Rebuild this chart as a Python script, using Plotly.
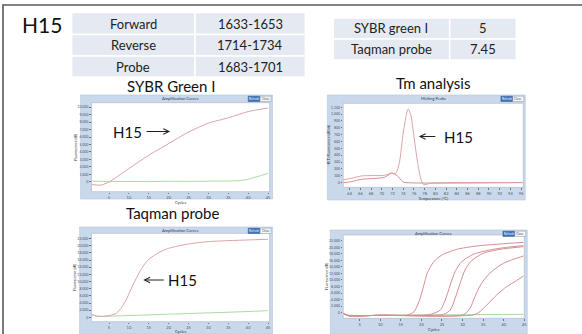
import plotly.graph_objects as go

# ---------------- data ----------------
# primer table
primer_names = ["Forward", "Reverse", "Probe"]
primer_pos = ["1633-1653", "1714-1734", "1683-1701"]
# value table
method_names = ["SYBR green I", "Taqman probe"]
method_vals = ["5", "7.45"]

# panel 1: SYBR Green I amplification
sybr_cycles = [0.6, 3, 5, 10, 15, 20, 25, 30, 35, 40, 45]
sybr_h15 = [-358, -418, 0, 1784, 3569, 5116, 6663, 7853, 8567, 9400, 9876]
sybr_ntc_cycles = [0.6, 5, 10, 15, 20, 25, 30, 35, 38, 40, 45]
sybr_ntc = [118, 40, 60, 40, 90, 70, 100, 120, 180, 360, 1140]

# panel 2: melting peaks
tm_temp_a = [62.8, 64.3, 66.2, 68.0, 70.5, 71.8, 72.6, 73.3, 73.9, 74.5, 74.9, 75.4, 76.0, 76.7, 77.3, 77.8, 79.1, 82.8, 96.4]
tm_h15_a = [38, 62, 97, 102, 106, 140, 135, 300, 671, 963, 1076, 988, 671, 282, 48, -30, -10, 0, 0]
tm_temp_b = [62.8, 64.3, 66.2, 68.0, 70.5, 71.8, 72.95, 73.9, 74.5, 96.4]
tm_h15_b = [0, 13, 48, 57, 77, 136, 97, 13, 0, 0]

# panel 3: Taqman probe amplification
taq_cycles = [0.6, 1.8, 3, 5, 6.8, 8, 9.3, 10, 11, 12.3, 13.5, 15, 17.5, 20, 25, 30, 35, 40, 45]
taq_h15 = [839, 370, 271, 469, 1111, 2518, 4839, 6518, 9036, 11826, 14172, 16221, 18073, 19283, 20493, 21159, 21431, 21628, 21801]
taq_ntc_cycles = [0.6, 1.8, 3, 10, 20, 30, 40, 45]
taq_ntc = [839, 370, 271, 518, 889, 1259, 1630, 1876]

# panel 4: dilution series amplification
dil_c1 = [1.0, 2.2, 10, 16.6, 18.2, 19.4, 20.5, 21.4, 23.0, 25.0, 28.6, 33.4, 39.1, 44.8]
dil_v1 = [-204, -919, -800, -715, 306, 3367, 7959, 12040, 15612, 17653, 19387, 20408, 21020, 21530]
dil_c2 = [1.0, 2.2, 10, 22.2, 24.6, 25.8, 27.0, 28.2, 29.8, 32.6, 36.6, 40.7, 44.8]
dil_v2 = [-204, -919, -800, -510, 816, 3877, 8469, 12551, 15612, 17857, 19183, 19999, 20510]
dil_c3 = [1.0, 2.2, 10, 25.4, 27.0, 28.2, 29.4, 30.6, 32.2, 35.0, 39.1, 44.8]
dil_v3 = [-204, -919, -800, -510, 816, 4387, 8979, 13061, 15918, 18163, 19387, 20204]
dil_c4 = [1.0, 2.2, 10, 30.2, 31.8, 33.0, 34.6, 36.6, 39.9, 44.8]
dil_v4 = [-204, -919, -800, -613, 1326, 4898, 8979, 12040, 15102, 17347]
dil_c5 = [1.0, 2.2, 10, 32.6, 34.2, 35.9, 38.3, 40.7, 43.1, 44.8]
dil_v5 = [-204, -919, -800, -715, 306, 2347, 5408, 7959, 9796, 11224]
dil_ntc_c = [1.0, 2.2, 20, 44.8]
dil_ntc_v = [-204, -715, -715, -510]

cycle_ticks = [5, 10, 15, 20, 25, 30, 35, 40, 45]
tm_ticks = [64, 66, 68, 70, 72, 74, 76, 78, 80, 82, 84, 86, 88, 90, 92, 94, 96]

# ---------------- layout helpers ----------------
W, H = 582, 334
def px(x):
    return x / W
def py(y):
    return 1 - y / H

FONT = "Lato"
RED = "#dea2a5"
RED2 = "#d58f93"
GREEN = "#a6dca0"

fig = go.Figure()

def line(xs, ys, n, color, width=1.0):
    fig.add_trace(go.Scatter(
        x=xs, y=ys, mode="lines",
        line=dict(color=color, width=width, shape="spline", smoothing=0.7),
        xaxis="x" if n == 1 else f"x{n}", yaxis="y" if n == 1 else f"y{n}",
        showlegend=False, hoverinfo="skip"))

line(sybr_ntc_cycles, sybr_ntc, 1, GREEN)
line(sybr_cycles, sybr_h15, 1, RED)
line(tm_temp_b, tm_h15_b, 2, RED2)
line(tm_temp_a, tm_h15_a, 2, RED)
line(taq_ntc_cycles, taq_ntc, 3, GREEN)
line(taq_cycles, taq_h15, 3, RED)
line(dil_ntc_c, dil_ntc_v, 4, GREEN)
for c, v in [(dil_c1, dil_v1), (dil_c2, dil_v2), (dil_c3, dil_v3), (dil_c4, dil_v4), (dil_c5, dil_v5)]:
    line(c, v, 4, RED2)

# panel geometry in pixels: frame box, plot box
panels = {
    1: dict(frame=(81, 95, 274, 199), plot=(92, 102.7, 271, 191.7), title="Amplification Curves"),
    2: dict(frame=(329, 95, 528, 200), plot=(345, 103.3, 526, 187.3), title="Melting Peaks"),
    3: dict(frame=(80, 227, 274, 334), plot=(92, 233.3, 271, 321.7), title="Amplification Curves"),
    4: dict(frame=(332, 230, 530, 334), plot=(345, 235, 527, 318.3), title="Amplification Curves"),
}
axis_cfg = {
    1: dict(xr=[0.6, 45.4], xt=cycle_ticks, yr=[-1310, 10590], yt=list(range(0, 10001, 1000)),
            xtitle="Cycles", ytitle="Fluorescence (dR)"),
    2: dict(xr=[62.8, 96.4], xt=tm_ticks, yr=[-69, 1158], yt=list(range(0, 1101, 100)),
            xtitle="Temperature (°C)", ytitle="-R'(T) Fluorescence (dR/dt)"),
    3: dict(xr=[0.6, 45.4], xt=cycle_ticks, yr=[-1210, 23480], yt=list(range(0, 22001, 2000)),
            xtitle="Cycles", ytitle="Fluorescence (dR)"),
    4: dict(xr=[1.0, 45.0], xt=cycle_ticks, yr=[-1735, 23775], yt=list(range(0, 22001, 2000)),
            xtitle="Cycles", ytitle="Fluorescence (dR)"),
}

shapes = []
annotations = []

def text(t, x, y, size, color="#111", xanchor="center"):
    annotations.append(dict(text=t, xref="paper", yref="paper", x=px(x), y=py(y), showarrow=False,
                            xanchor=xanchor, yanchor="middle",
                            font=dict(size=size, color=color, family=FONT)))

# outer slide frame
shapes.append(dict(type="rect", xref="paper", yref="paper", x0=px(3), x1=px(640), y0=py(5), y1=py(380),
                   line=dict(color="#5a5a5a", width=1.6), fillcolor="rgba(0,0,0,0)"))

layout_axes = {}
for n, p in panels.items():
    fx0, fy0, fx1, fy1 = p["frame"]
    ax0, ay0, ax1, ay1 = p["plot"]
    shapes.append(dict(type="rect", xref="paper", yref="paper", layer="below",
                       x0=px(fx0), x1=px(fx1), y0=py(fy1), y1=py(fy0),
                       fillcolor="#c9d9eb", line=dict(color="#b3c6dc", width=0.6)))
    shapes.append(dict(type="rect", xref="paper", yref="paper", layer="below",
                       x0=px(ax0), x1=px(ax1), y0=py(ay1), y1=py(ay0),
                       fillcolor="white", line=dict(color="#a9b4c2", width=0.6)))
    # title bar text
    text(p["title"], (ax0 + ax1) / 2, fy0 + 3.8, 4, "#2d3b52")
    # buttons
    bx1 = fx1 - 1.5
    shapes.append(dict(type="rect", xref="paper", yref="paper", x0=px(bx1 - 11), x1=px(bx1), y0=py(fy0 + 6.5),
                       y1=py(fy0 + 1.2), fillcolor="#f4f6f8", line=dict(color="#8d9aab", width=0.5)))
    shapes.append(dict(type="rect", xref="paper", yref="paper", x0=px(bx1 - 23), x1=px(bx1 - 11.5), y0=py(fy0 + 6.5),
                       y1=py(fy0 + 1.2), fillcolor="#3e73b8", line=dict(color="#2c5a96", width=0.5)))
    text("Refresh", bx1 - 17.2, fy0 + 3.9, 3, "white")
    text("Close", bx1 - 5.5, fy0 + 3.9, 3, "#555")

    cfg = axis_cfg[n]
    xk = "xaxis" if n == 1 else f"xaxis{n}"
    yk = "yaxis" if n == 1 else f"yaxis{n}"
    layout_axes[xk] = dict(domain=[px(ax0), px(ax1)], anchor="y" if n == 1 else f"y{n}",
                           range=cfg["xr"], tickvals=cfg["xt"], showgrid=False, zeroline=False,
                           showline=False, ticks="outside", ticklen=1.5, tickcolor="#6a7686",
                           tickfont=dict(size=4, color="#4a5566", family=FONT),
                           title=dict(text=cfg["xtitle"], font=dict(size=4, color="#333", family=FONT), standoff=0))
    layout_axes[yk] = dict(domain=[py(ay1), py(ay0)], anchor="x" if n == 1 else f"x{n}",
                           range=cfg["yr"], tickvals=cfg["yt"], tickformat=",", showgrid=False, zeroline=False,
                           showline=False, ticks="outside", ticklen=1.5, tickcolor="#6a7686",
                           tickfont=dict(size=3.5, color="#4a5566", family=FONT),
                           title=dict(text=cfg["ytitle"], font=dict(size=3.5, color="#333", family=FONT), standoff=0))

# tables
CELL = "#e5eaf2"
def table(x_edges, y_edges, rows):
    for r, row in enumerate(rows):
        for c, txt in enumerate(row):
            x0, x1 = x_edges[c], x_edges[c + 1]
            y0, y1 = y_edges[r], y_edges[r + 1]
            shapes.append(dict(type="rect", xref="paper", yref="paper", x0=px(x0), x1=px(x1),
                               y0=py(y1), y1=py(y0), fillcolor=CELL, line=dict(color="white", width=1.5)))
            text(txt, (x0 + x1) / 2, (y0 + y1) / 2, 13, "#222")

table([72, 196, 307], [12.5, 34.5, 56, 77], list(zip(primer_names, primer_pos)))
table([335, 452, 519], [18, 39, 60], list(zip(method_names, method_vals)))

text("H15", 20, 25, 21, xanchor="left")
text("SYBR Green I", 172, 86, 15)
text("Tm analysis", 435, 83, 15)
text("Taqman probe", 173, 213, 15)

def arrow(head_x, tail_x, y):
    annotations.append(dict(text="", xref="paper", yref="paper", x=px(head_x), y=py(y),
                            ax=tail_x - head_x, ay=0, showarrow=True, arrowhead=5, arrowsize=1.1,
                            arrowwidth=1, arrowcolor="#222"))

text("H15", 128, 131.5, 15)
arrow(171, 146, 131.5)
text("H15", 461, 136.5, 15)
arrow(421, 439, 136.5)
text("H15", 183, 280, 15)
arrow(144, 166, 280)

fig.update_layout(width=W, height=H, margin=dict(l=0, r=0, t=0, b=0),
                  paper_bgcolor="white", plot_bgcolor="rgba(0,0,0,0)",
                  shapes=shapes, annotations=annotations, showlegend=False,
                  font=dict(family=FONT), **layout_axes)

fig.write_html("out.html")
